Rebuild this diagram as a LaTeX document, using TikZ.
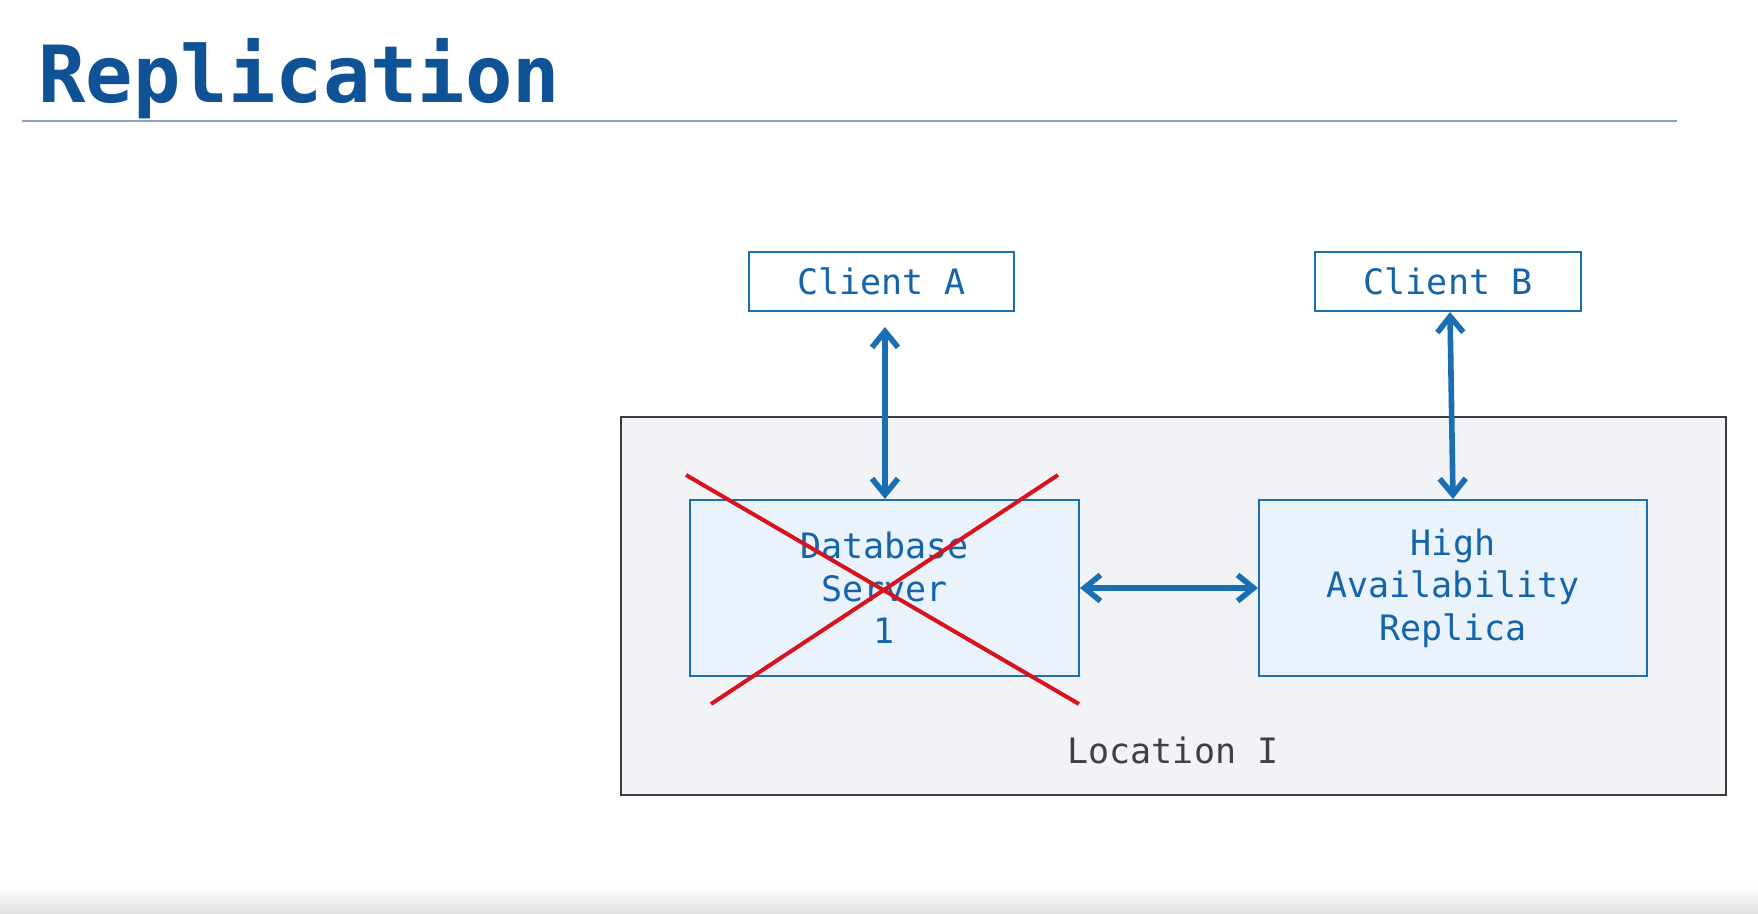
\documentclass[tikz,border=0pt]{standalone}
\usepackage{fontspec}
\newfontfamily\plexmono{DejaVu Sans Mono}
\usetikzlibrary{arrows.meta}
\definecolor{titleblue}{RGB}{16,82,150}
\definecolor{boxblue}{RGB}{25,110,180}
\definecolor{textblue}{RGB}{20,100,170}
\definecolor{lightfill}{RGB}{234,242,252}
\definecolor{locfill}{RGB}{242,243,246}
\definecolor{locdraw}{RGB}{60,60,60}
\definecolor{xred}{RGB}{215,20,30}
\definecolor{rulecol}{RGB}{140,160,195}
\tikzset{
  clientbox/.style={draw=boxblue, line width=1pt, fill=white, inner sep=0pt, text=textblue, font=\plexmono\fontsize{17.5}{21}\selectfont},
  serverbox/.style={draw=boxblue, line width=1pt, fill=lightfill, inner sep=0pt, text=textblue, align=center, font=\plexmono\fontsize{17.5}{21.3}\selectfont},
  link/.style={draw=boxblue, line width=2.8pt, {Straight Barb[length=8pt,width=13pt]}-{Straight Barb[length=8pt,width=13pt]}},
  cross/.style={draw=xred, line width=2pt}
}
\begin{document}
\begin{tikzpicture}[x=0.5pt,y=-0.5pt]
\useasboundingbox (0,0) rectangle (1758,914);
\fill[white] (0,0) rectangle (1758,914);
\shade[top color=white, bottom color=black!12] (0,885) rectangle (1758,914);
% title
\node[anchor=base west, inner sep=0pt, text=titleblue, font=\plexmono\bfseries\fontsize{39.4}{44}\selectfont] (title) at (38,103) {Replication};
\coordinate (ruleL) at (22,121);
\coordinate (ruleR) at (1677,121);
\draw[rulecol, line width=0.8pt] (ruleL) -- (ruleR);
% location box
\node[draw=locdraw, line width=1pt, fill=locfill, minimum width=552.5pt, minimum height=189pt, inner sep=0pt] (loc) at (1173.5,606) {};
\node[text=black!75, font=\plexmono\fontsize{17.5}{21}\selectfont] (loclabel) at (1173,750) {Location I};
% clients
\node[clientbox, minimum width=132.5pt, minimum height=29.5pt] (ca) at (881.5,281.5) {Client A};
\node[clientbox, minimum width=133pt, minimum height=29.5pt] (cb) at (1448,281.5) {Client B};
% servers
\node[serverbox, minimum width=194.5pt, minimum height=88pt] (db) at (884.5,588) {Database\\Server\\1};
\node[serverbox, minimum width=194pt, minimum height=88pt] (ha) at (1453,588) {High\\Availability\\Replica};
% arrows
\coordinate (atop) at (885,327);
\draw[link] (atop) -- (atop |- db.north);
\draw[link] ([xshift=1pt]cb.south) -- (ha.north);
\draw[link] (db.east) -- (ha.west);
% red cross
\coordinate (x1) at (686,475);
\coordinate (x2) at (1079,704);
\coordinate (x3) at (1058,475);
\coordinate (x4) at (711,704);
\draw[cross] (x1) -- (x2);
\draw[cross] (x3) -- (x4);
\end{tikzpicture}
\end{document}
